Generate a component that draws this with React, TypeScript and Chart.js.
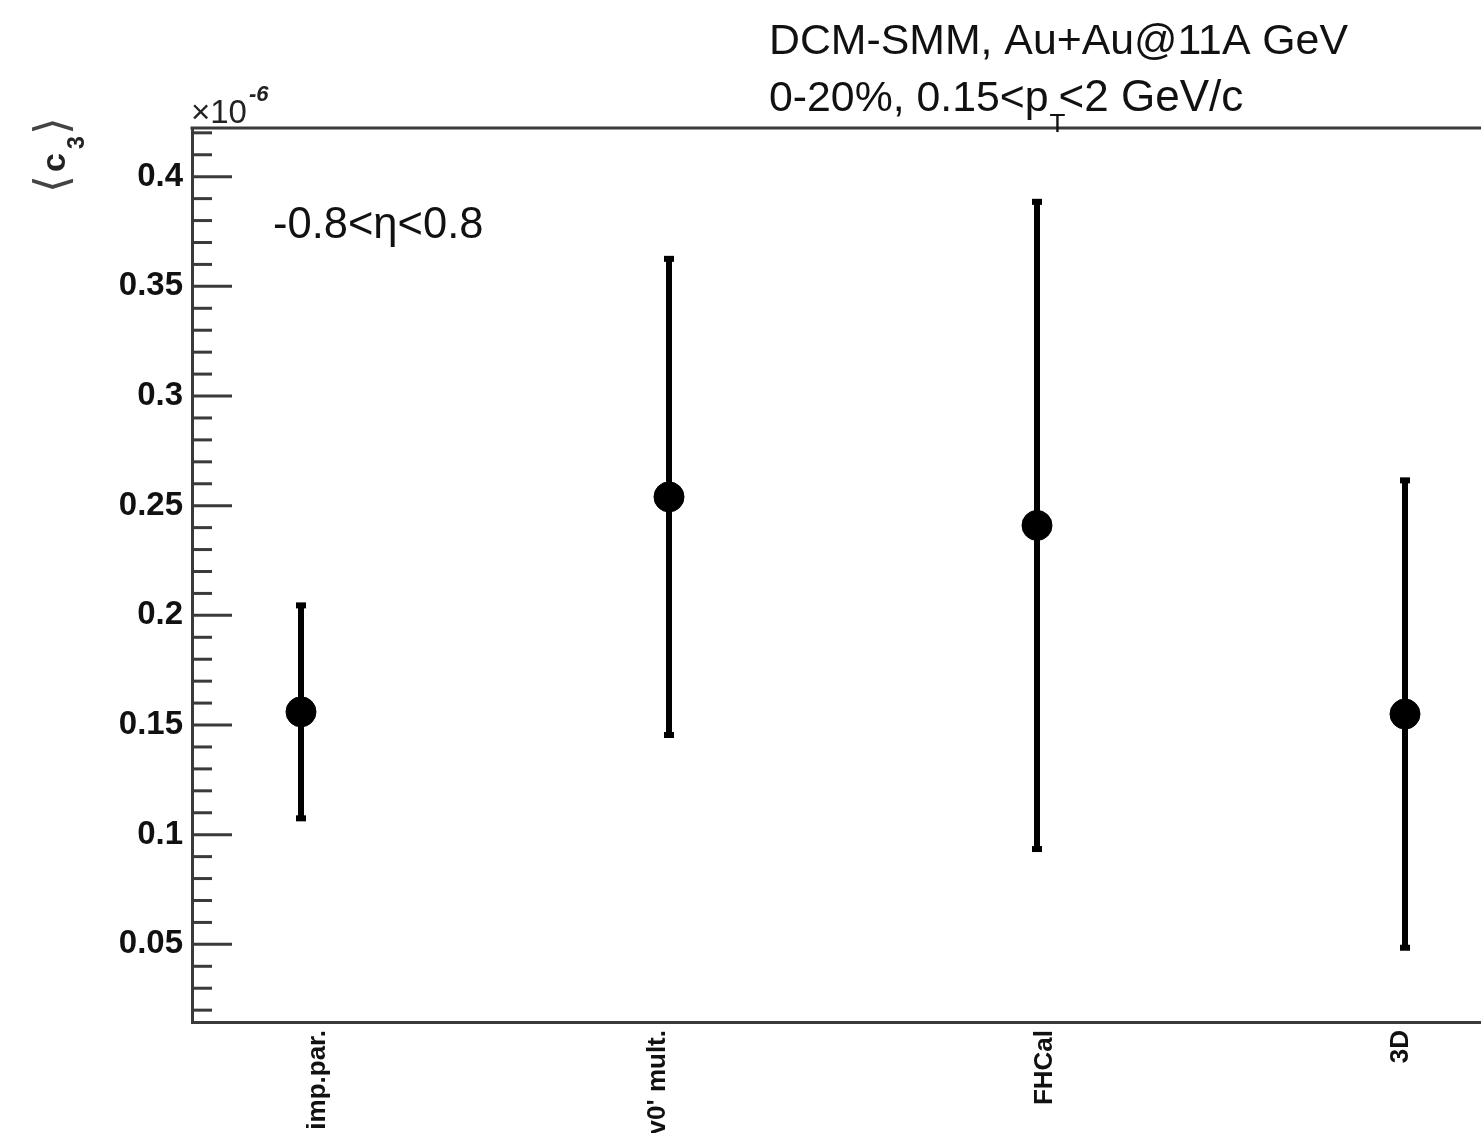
import React, { useEffect, useRef } from "react";
import { Chart, registerables } from "chart.js";

Chart.register(...registerables);

// Event-plane estimators along the horizontal axis
const categories = ["imp.par.", "v0' mult.", "FHCal", "3D"];
// <c3> mean values (units of 1e-6) and their statistical errors
const c3Values = [0.156, 0.254, 0.241, 0.155];
const c3Errors = [0.049, 0.109, 0.148, 0.107];
// Labelled ticks on the vertical axis
const yTickLabels = [0.05, 0.1, 0.15, 0.2, 0.25, 0.3, 0.35, 0.4];
// Minor ticks every 0.01
const yMinorTicks = Array.from({ length: 41 }, (_, i) => +(0.02 + i * 0.01).toFixed(2));

const W = 1481;
const H = 1133;
const FONT = "'Liberation Sans', Arial, Helvetica, sans-serif";
const AXIS_COLOR = "#3a3a3a";
// Small horizontal shifts of the rotated bin labels
const labelShift = [17, -11, 8, -4];

const decorPlugin = {
  id: "rootDecor",
  beforeDatasetsDraw(chart: any) {
    const { ctx } = chart;
    const xs = chart.scales.x;
    const ys = chart.scales.y;
    ctx.save();
    ctx.fillStyle = "#000";
    ctx.strokeStyle = "#000";
    ctx.lineWidth = 6;
    c3Values.forEach((v, i) => {
      const px = xs.getPixelForValue(i);
      const top = ys.getPixelForValue(v + c3Errors[i]);
      const bot = ys.getPixelForValue(v - c3Errors[i]);
      ctx.beginPath();
      ctx.moveTo(px, top);
      ctx.lineTo(px, bot);
      ctx.stroke();
      ctx.fillRect(px - 5, top - 2, 10, 6);
      ctx.fillRect(px - 5, bot - 4, 10, 6);
    });
    ctx.restore();
  },
  afterDraw(chart: any) {
    const { ctx, chartArea } = chart;
    const ys = chart.scales.y;
    const xs = chart.scales.x;
    ctx.save();
    // frame top line (the frame runs past the right edge)
    ctx.strokeStyle = AXIS_COLOR;
    ctx.lineWidth = 3;
    ctx.beginPath();
    ctx.moveTo(chartArea.left - 1.5, chartArea.top);
    ctx.lineTo(chart.width, chartArea.top);
    ctx.stroke();
    // inward y ticks
    yMinorTicks.forEach((t) => {
      const y = ys.getPixelForValue(t);
      if (y < chartArea.top || y > chartArea.bottom) return;
      const major = Math.abs(Math.round(t * 100) % 5) === 0;
      ctx.beginPath();
      ctx.moveTo(chartArea.left, y);
      ctx.lineTo(chartArea.left + (major ? 40 : 20), y);
      ctx.stroke();
    });
    // rotated bin labels
    ctx.fillStyle = "#111";
    ctx.font = `bold 26px ${FONT}`;
    ctx.textAlign = "right";
    ctx.textBaseline = "middle";
    categories.forEach((c, i) => {
      const px = xs.getPixelForValue(i) + labelShift[i];
      ctx.save();
      ctx.translate(px, chartArea.bottom + 8);
      ctx.rotate(-Math.PI / 2);
      ctx.fillText(c, 0, 0);
      ctx.restore();
    });
    // exponent marker
    ctx.fillStyle = "#222";
    ctx.textAlign = "left";
    ctx.textBaseline = "alphabetic";
    ctx.font = `33px ${FONT}`;
    ctx.fillText("\u00d710", chartArea.left - 1, chartArea.top - 5);
    const w10 = ctx.measureText("\u00d710").width;
    ctx.font = `bold italic 22px ${FONT}`;
    ctx.fillText("-6", chartArea.left + w10 + 1, chartArea.top - 27);
    // y axis title <c3>
    ctx.save();
    ctx.translate(65, 192);
    ctx.rotate(-Math.PI / 2);
    ctx.fillStyle = "#444";
    ctx.textBaseline = "middle";
    ctx.font = `46px 'DejaVu Sans', ${FONT}`;
    ctx.fillText("\u27e8", -1, -10);
    ctx.fillStyle = "#222";
    ctx.textBaseline = "alphabetic";
    ctx.font = `bold 34px ${FONT}`;
    ctx.fillText("c", 20, 0);
    ctx.font = `bold 23px ${FONT}`;
    ctx.fillText("3", 43, 19);
    ctx.fillStyle = "#444";
    ctx.textBaseline = "middle";
    ctx.font = `46px 'DejaVu Sans', ${FONT}`;
    ctx.fillText("\u27e9", 57, -10);
    ctx.restore();
    // header text
    ctx.fillStyle = "#111";
    ctx.textBaseline = "alphabetic";
    ctx.font = `42.8px ${FONT}`;
    ctx.fillText("DCM-SMM, Au+Au@11A GeV", 769, 54);
    let x = 769;
    const part1 = "0-20%, 0.15<p";
    ctx.fillText(part1, x, 111);
    x += ctx.measureText(part1).width;
    ctx.font = `26px ${FONT}`;
    ctx.fillText("T", x + 1, 132);
    x += 10;
    ctx.font = `44px ${FONT}`;
    ctx.fillText("<2 GeV/c", x, 111);
    // pseudorapidity window
    ctx.font = `43.5px ${FONT}`;
    ctx.fillText("-0.8<\u03b7<0.8", 273, 238);
    ctx.restore();
  },
};

export default function App() {
  const ref = useRef<HTMLCanvasElement | null>(null);
  useEffect(() => {
    if (!ref.current) return;
    const chart = new Chart(ref.current, {
      type: "scatter",
      data: {
        datasets: [
          {
            data: c3Values.map((v, i) => ({ x: i, y: v })),
            backgroundColor: "#000",
            borderColor: "#000",
            pointRadius: 15,
            pointHoverRadius: 15,
          },
        ],
      },
      options: {
        animation: false,
        responsive: false,
        devicePixelRatio: 1,
        events: [],
        layout: { autoPadding: false, padding: { left: 0, right: 0, top: 128, bottom: 0 } },
        plugins: { legend: { display: false }, tooltip: { enabled: false } },
        scales: {
          x: {
            type: "linear",
            min: -0.2962,
            max: 3.2065,
            grid: { display: false, drawTicks: false },
            border: { display: true, color: AXIS_COLOR, width: 3 },
            ticks: { display: false },
            afterFit: (s: any) => {
              s.height = 111;
              s.paddingLeft = 0;
              s.paddingRight = 0;
            },
          },
          y: {
            type: "linear",
            min: 0.0146,
            max: 0.4222,
            grid: { display: false, drawTicks: false },
            border: { display: true, color: AXIS_COLOR, width: 3 },
            afterBuildTicks: (s: any) => {
              s.ticks = yTickLabels.map((v) => ({ value: v }));
            },
            ticks: {
              color: "#111",
              padding: 9,
              font: { family: FONT, size: 33, weight: "bold" },
              callback: (v: any) => String(+Number(v).toFixed(2)),
            },
            afterFit: (s: any) => {
              s.width = 192;
            },
          },
        },
      },
      plugins: [decorPlugin],
    });
    return () => chart.destroy();
  }, []);
  return (
    <div style={{ position: "fixed", left: 0, top: 0, width: W, height: H, background: "#fff", overflow: "hidden" }}>
      <canvas ref={ref} width={W} height={H} style={{ display: "block" }} />
    </div>
  );
}
